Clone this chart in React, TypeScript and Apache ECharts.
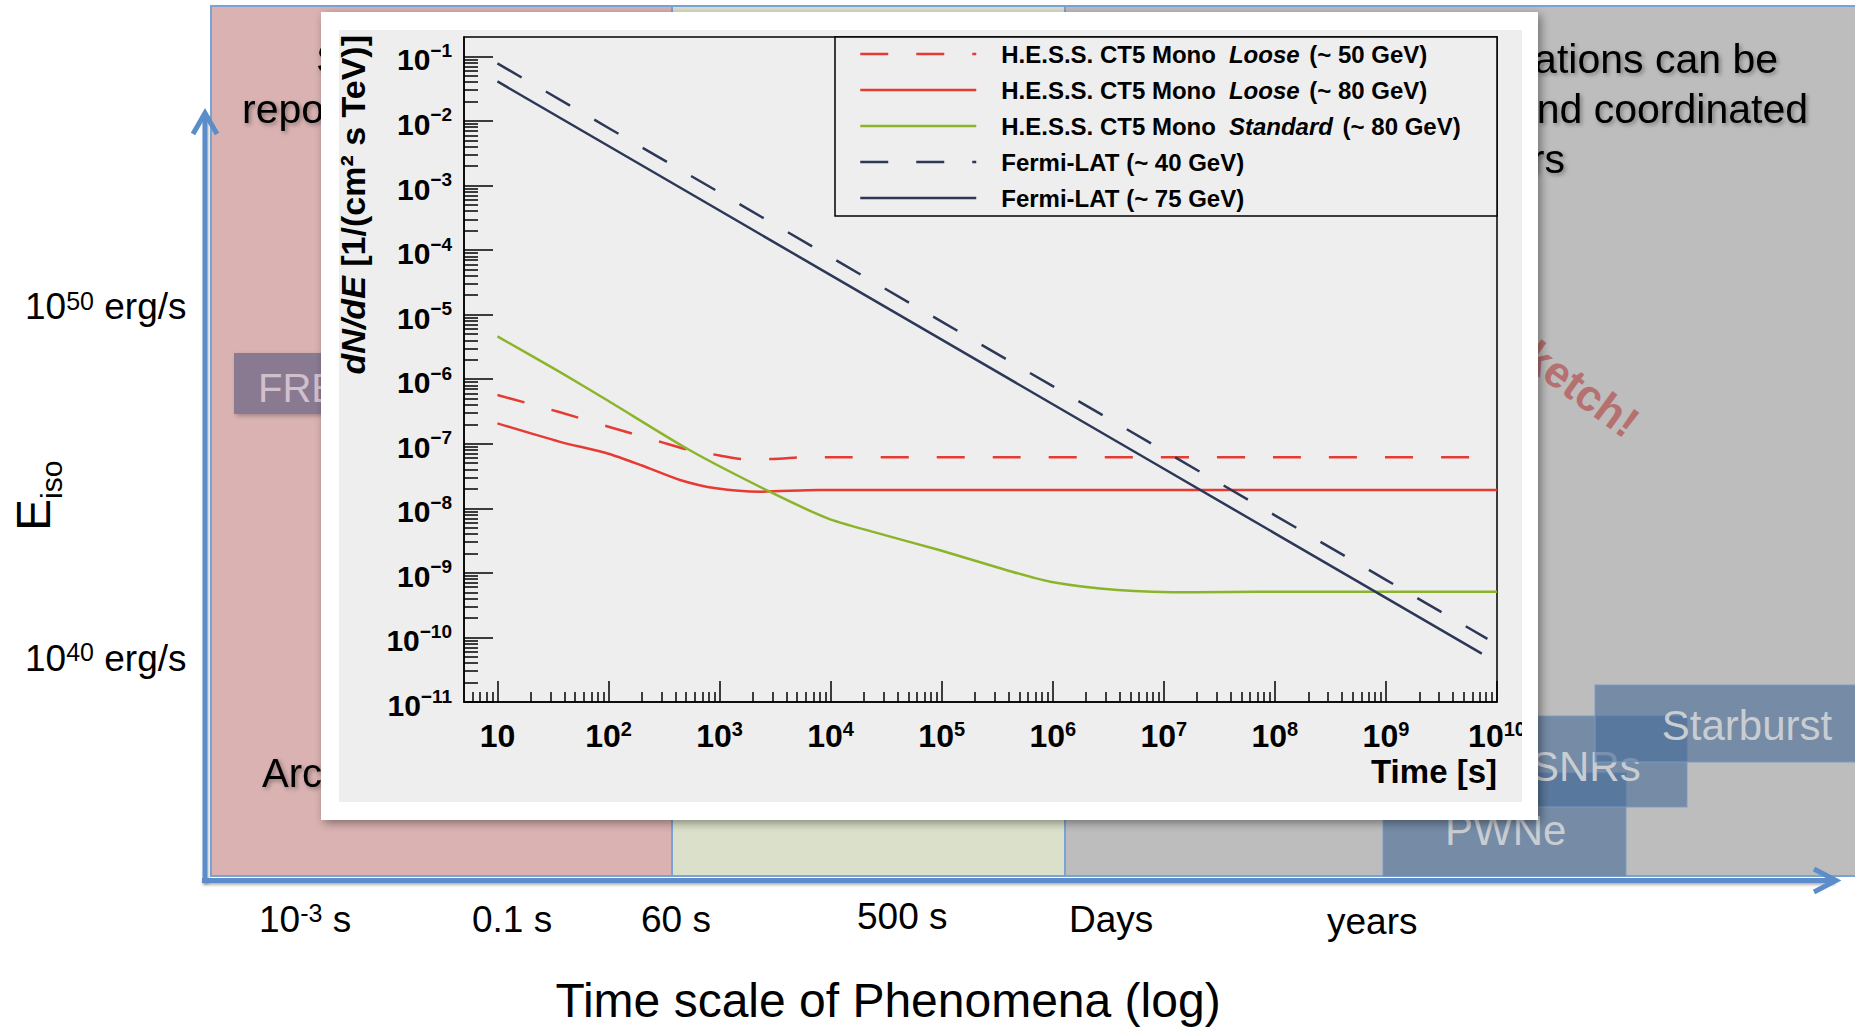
import React, { useEffect, useRef } from 'react';
import * as echarts from 'echarts';

const FONT = 'Liberation Sans';

// ---------- axis ranges & ticks ----------
const timeMin = 5;
const timeMax = 1e10;
const fluxMin = 1e-11;
const fluxMax = 0.2;

const xTickValues = [10, 1e2, 1e3, 1e4, 1e5, 1e6, 1e7, 1e8, 1e9, 1e10];
const xTickLabels = ['10', '10^2', '10^3', '10^4', '10^5', '10^6', '10^7', '10^8', '10^9', '10^10'];
const yTickValues = [1e-11, 1e-10, 1e-9, 1e-8, 1e-7, 1e-6, 1e-5, 1e-4, 1e-3, 1e-2, 1e-1];
const yTickLabels = ['10^−11', '10^−10', '10^−9', '10^−8', '10^−7', '10^−6', '10^−5', '10^−4', '10^−3', '10^−2', '10^−1'];

const xMinorTicks: number[] = [];
for (let e = 0; e <= 9; e++) for (let m = 2; m <= 9; m++) { const v = m * Math.pow(10, e); if (v > timeMin && v < timeMax) xMinorTicks.push(v); }
const yMinorTicks: number[] = [];
for (let e = -11; e <= -1; e++) for (let m = 2; m <= 9; m++) { const v = m * Math.pow(10, e); if (v > fluxMin && v < fluxMax) yMinorTicks.push(v); }

// ---------- series ----------
const seriesNames = [
  'H.E.S.S. CT5 Mono Loose (~ 50 GeV)',
  'H.E.S.S. CT5 Mono Loose (~ 80 GeV)',
  'H.E.S.S. CT5 Mono Standard (~ 80 GeV)',
  'Fermi-LAT (~ 40 GeV)',
  'Fermi-LAT (~ 75 GeV)',
];
const legendParts = [
  ['H.E.S.S. CT5 Mono', 'Loose', ' (~ 50 GeV)'],
  ['H.E.S.S. CT5 Mono', 'Loose', ' (~ 80 GeV)'],
  ['H.E.S.S. CT5 Mono', 'Standard', ' (~ 80 GeV)'],
  ['Fermi-LAT (~ 40 GeV)', '', ''],
  ['Fermi-LAT (~ 75 GeV)', '', ''],
];
const seriesColors = ['#e63a33', '#e63a33', '#8cb42a', '#2d3858', '#2d3858'];
const seriesDashed = [true, false, false, true, false];

const hessLoose50Time = [10, 36, 100, 300, 535, 1000, 1600, 3000, 6000, 1e4, 1e10];
const hessLoose50Flux = [5.7e-7, 3.1e-7, 1.84e-7, 1.06e-7, 8.0e-8, 6.6e-8, 5.8e-8, 5.8e-8, 6.2e-8, 6.2e-8, 6.2e-8];

const hessLoose80Time = [10, 36, 100, 200, 440, 930, 2350, 7800, 1e10];
const hessLoose80Flux = [2.07e-7, 1.08e-7, 7.0e-8, 4.6e-8, 2.75e-8, 2.04e-8, 1.81e-8, 1.92e-8, 1.92e-8];

const hessStdTime = [10, 36, 100, 535, 2830, 9400, 23700, 95000, 3.8e5, 9.5e5, 3.85e6, 1.86e7, 7.3e7, 1e10];
const hessStdFlux = [4.6e-6, 1.31e-6, 4.6e-7, 8.0e-8, 1.81e-8, 7.0e-9, 4.35e-9, 2.26e-9, 1.11e-9, 7.3e-10, 5.43e-10, 5.0e-10, 5.1e-10, 5.1e-10];

const fermi40Time = [10, 1e2, 1e3, 1e4, 1e5, 1e6, 1e7, 1e8, 1e9, 8.2e9];
const fermi40Flux = [7.8e-2, 7.8e-3, 7.8e-4, 7.8e-5, 7.8e-6, 7.8e-7, 7.8e-8, 7.8e-9, 7.8e-10, 9.5e-11];

const fermi75Time = [10, 1e2, 1e3, 1e4, 1e5, 1e6, 1e7, 1e8, 1e9, 7.3e9];
const fermi75Flux = [4.1e-2, 4.1e-3, 4.1e-4, 4.1e-5, 4.1e-6, 4.1e-7, 4.1e-8, 4.1e-9, 4.1e-10, 5.6e-11];

const seriesTimes = [hessLoose50Time, hessLoose80Time, hessStdTime, fermi40Time, fermi75Time];
const seriesFluxes = [hessLoose50Flux, hessLoose80Flux, hessStdFlux, fermi40Flux, fermi75Flux];
const seriesSmooth = [0.25, 0.25, 0.25, false, false];

// ---------- slide texts ----------
const slideTimeLabels = ['0.1 s', '60 s', '500 s', 'Days', 'years'];
const slideTimeLabelX = [472, 641, 857, 1069, 1327];
const slideTimeLabelY = [919, 919, 916, 919, 921];

function toRich(label: string) {
  const parts = label.split('^');
  return parts.length > 1 ? `{b|${parts[0]}}{e|${parts[1]}}` : `{b|${parts[0]}}`;
}
function tickFormatter(values: number[], labels: string[]) {
  return (v: number) => {
    const i = values.findIndex((t) => Math.abs(Math.log10(t) - Math.log10(v)) < 1e-6);
    return i >= 0 ? toRich(labels[i]) : '';
  };
}

function text(o: any) {
  const align = o.align || 'left';
  const va = o.va || 'middle';
  const style: any = {
    text: o.text,
    x: 0,
    y: 0,
    fill: o.fill || '#000',
    fontSize: o.size,
    fontFamily: FONT,
    fontWeight: o.weight || 'normal',
    fontStyle: o.italic ? 'italic' : 'normal',
    align,
    textAlign: align,
    verticalAlign: va,
    textVerticalAlign: va,
  };
  if (o.rich) style.rich = o.rich;
  if (o.shadow) {
    style.textShadowColor = 'rgba(0,0,0,0.35)';
    style.textShadowBlur = 4;
    style.textShadowOffsetX = 2;
    style.textShadowOffsetY = 2;
  }
  return { type: 'text', z: o.z || 0, x: o.x, y: o.y, rotation: o.rotation || 0, silent: true, style };
}
function rect(x: number, y: number, w: number, h: number, style: any, z = 0) {
  return { type: 'rect', z, silent: true, shape: { x, y, width: w, height: h }, style };
}

const blue = '#5b8dca';
const regionStroke = '#7aa2d4';
const boxFill = 'rgba(72,108,152,0.62)';
const boxStroke = 'rgba(120,155,200,0.6)';
const boxText = '#c9cdd2';

const supRich = (a: number, b: number) => ({
  a: { fontSize: a, fontFamily: FONT, fill: '#000', verticalAlign: 'top' },
  b: { fontSize: b, fontFamily: FONT, fill: '#000', verticalAlign: 'top' },
});

const graphic: any[] = [
  // regions
  rect(211, 6, 461, 870, { fill: '#d9b2b1', stroke: regionStroke, lineWidth: 2 }),
  rect(672, 6, 393, 870, { fill: '#dae0c9', stroke: regionStroke, lineWidth: 2 }),
  rect(1065, 6, 800, 870, { fill: '#bdbdbd', stroke: regionStroke, lineWidth: 2 }),
  // FRB box
  rect(234, 353, 150, 61, { fill: '#897a92', shadowBlur: 4, shadowColor: 'rgba(0,0,0,0.25)', shadowOffsetX: 2, shadowOffsetY: 2 }),
  text({ x: 258, y: 388, text: 'FRB', size: 40, fill: '#d2bfcc' }),
  // PWNe / SNRs / Starburst
  rect(1383, 773, 243, 103, { fill: boxFill, stroke: boxStroke, lineWidth: 1.5 }),
  text({ x: 1445, y: 830, text: 'PWNe', size: 42, fill: boxText }),
  rect(1450, 716, 237, 91, { fill: boxFill, stroke: boxStroke, lineWidth: 1.5 }),
  text({ x: 1531, y: 766, text: 'SNRs', size: 42, fill: boxText }),
  rect(1595, 685, 270, 77, { fill: boxFill, stroke: boxStroke, lineWidth: 1.5 }),
  text({ x: 1747, y: 725, text: 'Starburst', size: 42, fill: boxText, align: 'center' }),
  // slide paragraph fragments (the parts not covered by the inset plot)
  text({ x: 316, y: 59, text: 'S', size: 41, shadow: true }),
  text({ x: 242, y: 109, text: 'repo', size: 41, shadow: true }),
  text({ x: 1778, y: 59, text: 'ations can be', size: 41, shadow: true, align: 'right' }),
  text({ x: 1808, y: 109, text: 'nd coordinated', size: 41, shadow: true, align: 'right' }),
  text({ x: 1565, y: 159, text: 'rs', size: 41, shadow: true, align: 'right' }),
  text({ x: 262, y: 773, text: 'Arc', size: 40, shadow: true }),
  text({ x: 1634, y: 427, text: 'Sketch!', size: 44, weight: 'bold', fill: '#b5716f', align: 'right', rotation: -0.63 }),
  // axis arrows of the slide
  rect(202.5, 116, 5, 767, { fill: blue, shadowBlur: 3, shadowColor: 'rgba(0,0,0,0.3)', shadowOffsetX: 1, shadowOffsetY: 1 }),
  { type: 'polyline', z: 0, silent: true, shape: { points: [[193, 134], [205, 113], [217, 134]] }, style: { stroke: blue, lineWidth: 5, fill: null } },
  rect(202, 878, 1632, 5, { fill: blue, shadowBlur: 3, shadowColor: 'rgba(0,0,0,0.3)', shadowOffsetX: 1, shadowOffsetY: 2 }),
  { type: 'polyline', z: 0, silent: true, shape: { points: [[1814, 869], [1836, 880.5], [1814, 892]] }, style: { stroke: blue, lineWidth: 5, fill: null } },
  // slide y labels
  text({ x: 25, y: 288, text: '{a|10}{b|50}{a| erg/s}', size: 37, va: 'top', rich: supRich(37, 25) }),
  text({ x: 25, y: 639.5, text: '{a|10}{b|40}{a| erg/s}', size: 37, va: 'top', rich: supRich(37, 25) }),
  text({ x: 33, y: 531, text: 'E', size: 48, rotation: Math.PI / 2 }),
  text({ x: 51, y: 499, text: 'iso', size: 30, rotation: Math.PI / 2 }),
  // slide x labels
  text({ x: 259, y: 900.5, text: '{a|10}{b|-3}{a| s}', size: 37, va: 'top', rich: supRich(37, 25) }),
  ...slideTimeLabels.map((t, i) => text({ x: slideTimeLabelX[i], y: slideTimeLabelY[i], text: t, size: 37 })),
  text({ x: 888, y: 1000, text: 'Time scale of Phenomena (log)', size: 48, align: 'center' }),
  // inset chart frame
  rect(321, 12, 1217, 808, { fill: '#ffffff', shadowBlur: 10, shadowColor: 'rgba(0,0,0,0.4)', shadowOffsetX: 3, shadowOffsetY: 3 }, 1),
  rect(339, 30, 1183, 772, { fill: '#eeeeee' }, 1),
  // legend box
  rect(835, 37, 662, 179, { fill: '#eeeeee', stroke: '#000', lineWidth: 1.5 }, 5),
  // clip strip at the pad edge
  rect(1522, 30, 16, 772, { fill: '#ffffff' }, 7),
  // axis titles
  text({ z: 7, x: 1497, y: 771, text: 'Time [s]', size: 33, weight: 'bold', align: 'right' }),
  text({
    z: 7, x: 353, y: 35, rotation: Math.PI / 2, align: 'right', size: 34,
    text: '{i|dN/dE} {n|[1/(cm² s TeV)]}',
    rich: {
      i: { fontSize: 34, fontFamily: FONT, fontWeight: 'bold', fontStyle: 'italic', fill: '#000' },
      n: { fontSize: 34, fontFamily: FONT, fontWeight: 'bold', fill: '#000' },
    },
  }),
];

const tickLine = { color: '#000', width: 1.5 };

const xRich = {
  b: { fontSize: 32, fontWeight: 'bold', fontFamily: FONT, color: '#000', padding: [5, 0, 0, 0], verticalAlign: 'top' },
  e: { fontSize: 20, fontWeight: 'bold', fontFamily: FONT, color: '#000', padding: [4, 0, 0, 0], verticalAlign: 'top' },
};
const yRich = {
  b: { fontSize: 30, fontWeight: 'bold', fontFamily: FONT, color: '#000', padding: [7, 0, 0, 0], verticalAlign: 'top' },
  e: { fontSize: 19, fontWeight: 'bold', fontFamily: FONT, color: '#000', padding: [3, 0, 0, 0], verticalAlign: 'top' },
};

const legendRich = {
  g: { width: 20, fontSize: 24, lineHeight: 23 },
  n: { fontSize: 24, lineHeight: 23, fontWeight: 'bold', fontFamily: FONT, color: '#000' },
  i: { fontSize: 24, lineHeight: 23, fontWeight: 'bold', fontStyle: 'italic', fontFamily: FONT, color: '#000', padding: [0, 3, 0, 13] },
};

const option: any = {
  animation: false,
  backgroundColor: '#ffffff',
  textStyle: { fontFamily: FONT },
  graphic,
  grid: {
    left: 464, top: 37, width: 1033, height: 665,
    show: true, backgroundColor: '#eeeeee', borderColor: '#000', borderWidth: 1.5, z: 2,
    outerBoundsMode: 'none',
  },
  legend: {
    show: true, orient: 'vertical', left: 835, top: 37, padding: [5, 0, 0, 24],
    itemWidth: 116, itemHeight: 14, itemGap: 12, z: 6, selectedMode: false,
    backgroundColor: 'transparent', borderWidth: 0,
    lineStyle: { width: 2.5 },
    itemStyle: { opacity: 0, color: 'transparent', borderWidth: 0 },
    data: seriesNames,
    formatter: (name: string) => {
      const p = legendParts[seriesNames.indexOf(name)];
      let s = `{g| }{n|${p[0]}}`;
      if (p[1]) s += `{i|${p[1]}}`;
      if (p[2]) s += `{n|${p[2]}}`;
      return s;
    },
    textStyle: { fontSize: 24, fontWeight: 'bold', fontFamily: FONT, color: '#000', rich: legendRich },
  },
  xAxis: [
    {
      type: 'log', logBase: 10, min: timeMin, max: timeMax, gridIndex: 0, position: 'bottom', z: 3,
      axisLine: { show: true, lineStyle: { color: '#000', width: 1.5 } },
      axisTick: { show: true, inside: true, length: 21, lineStyle: tickLine, customValues: xTickValues },
      axisLabel: { show: true, margin: 13, customValues: xTickValues, formatter: tickFormatter(xTickValues, xTickLabels), rich: xRich },
      splitLine: { show: false }, minorTick: { show: false },
    },
    {
      type: 'log', logBase: 10, min: timeMin, max: timeMax, gridIndex: 0, position: 'bottom', z: 3,
      axisLine: { show: false },
      axisTick: { show: true, inside: true, length: 10, lineStyle: tickLine, customValues: xMinorTicks },
      axisLabel: { show: false },
      splitLine: { show: false },
    },
  ],
  yAxis: [
    {
      type: 'log', logBase: 10, min: fluxMin, max: fluxMax, gridIndex: 0, position: 'left', z: 3,
      axisLine: { show: true, lineStyle: { color: '#000', width: 1.5 } },
      axisTick: { show: true, inside: true, length: 29, lineStyle: tickLine, customValues: yTickValues },
      axisLabel: { show: true, margin: 12, customValues: yTickValues, formatter: tickFormatter(yTickValues, yTickLabels), rich: yRich },
      splitLine: { show: false }, minorTick: { show: false },
    },
    {
      type: 'log', logBase: 10, min: fluxMin, max: fluxMax, gridIndex: 0, position: 'left', z: 3,
      axisLine: { show: false },
      axisTick: { show: true, inside: true, length: 14, lineStyle: tickLine, customValues: yMinorTicks },
      axisLabel: { show: false },
      splitLine: { show: false },
    },
  ],
  series: seriesNames.map((name, k) => ({
    name,
    type: 'line',
    xAxisIndex: 0,
    yAxisIndex: 0,
    z: 4,
    silent: true,
    symbol: 'none',
    smooth: seriesSmooth[k],
    data: seriesTimes[k].map((t, i) => [t, seriesFluxes[k][i]]),
    lineStyle: { color: seriesColors[k], width: 2.5, type: seriesDashed[k] ? [28, 28] : 'solid' },
    itemStyle: { color: seriesColors[k] },
    emphasis: { disabled: true },
  })),
};

export default function App() {
  const ref = useRef<HTMLDivElement>(null);
  useEffect(() => {
    const chart = echarts.init(ref.current as HTMLDivElement, null, { renderer: 'svg', width: 1855, height: 1028 });
    chart.setOption(option);
    return () => chart.dispose();
  }, []);
  return <div ref={ref} style={{ position: 'fixed', left: 0, top: 0, width: 1855, height: 1028, background: '#fff' }} />;
}
